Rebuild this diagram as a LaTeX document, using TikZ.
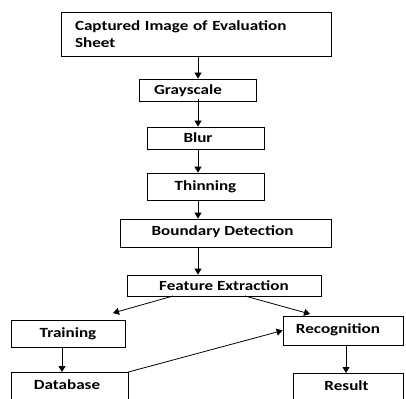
\documentclass[tikz,border=0pt]{standalone}
\usepackage{fontspec}
\setmainfont[FakeStretch=1.22]{Carlito}
\usetikzlibrary{arrows.meta}

\tikzset{
  stage/.style={draw, line width=0.8pt, inner sep=0pt, font=\bfseries\fontsize{14}{17}\selectfont},
  label/.style={font=\bfseries\fontsize{14}{17}\selectfont},
  flow/.style={line width=0.8pt, -{Triangle[width=7pt,length=6pt]}}
}

\begin{document}
\begin{tikzpicture}[x=1pt, y=-1pt]

\useasboundingbox (0,0) rectangle (406,398);

% stages
\node[stage, minimum width=270pt, minimum height=44pt, align=left, text width=242pt] (capt) at (196,34) {Captured Image of Evaluation\\Sheet};
\node[stage, minimum width=117pt, minimum height=22pt] (gray) at (197.5,90) {};
\node[label] (graytxt) at (188,91) {Grayscale};
\node[stage, minimum width=117pt, minimum height=22pt] (blur) at (205.5,138) {};
\node[label] (blurtxt) at (198,138) {Blur};
\node[stage, minimum width=117pt, minimum height=27pt] (thin) at (205.5,186.5) {Thinning};
\node[stage, minimum width=211pt, minimum height=28pt] (bound) at (225.5,233) {};
\node[label] (boundtxt) at (222.5,232) {Boundary Detection};
\node[stage, minimum width=194pt, minimum height=21pt] (feat) at (224,285.5) {Feature Extraction};

\node[stage, minimum width=114pt, minimum height=27pt] (train) at (68,333.5) {Training};
\node[stage, minimum width=120pt, minimum height=29pt] (recog) at (343,330.5) {};
\node[label] (recogtxt) at (338,330) {Recognition};
\node[stage, minimum width=117pt, minimum height=40pt, anchor=north] (db) at (69.5,372) {};
\node[label] (dbtxt) at (67,385) {Database};
\node[stage, minimum width=110pt, minimum height=40pt, anchor=north] (res) at (348,373) {};
\node[label] (restxt) at (346.5,386) {Result};

\coordinate (col) at (198,0);
\coordinate (fl) at (173,296);
\coordinate (fr) at (245,296);
\coordinate (tl) at (113,313);
\coordinate (tr) at (310,314);

% connectors
\draw[flow] (capt.south -| col) -- (gray.north -| col);
\draw[flow] ([yshift=2pt]gray.south -| col) -- (blur.north -| col);
\draw[flow] (blur.south -| col) -- (thin.north -| col);
\draw[flow] (thin.south -| col) -- (bound.north -| col);
\draw[flow] (bound.south -| col) -- (feat.north -| col);
\draw[flow] (fl) -- (tl);
\draw[flow] (fr) -- (tr);
\draw[flow] (train.south -| 62,0) -- (db.north -| 62,0);
\draw[flow] (db.north east) -- (recog.west);
\draw[flow] (recog.south -| 346,0) -- (res.north -| 346,0);

\end{tikzpicture}
\end{document}
